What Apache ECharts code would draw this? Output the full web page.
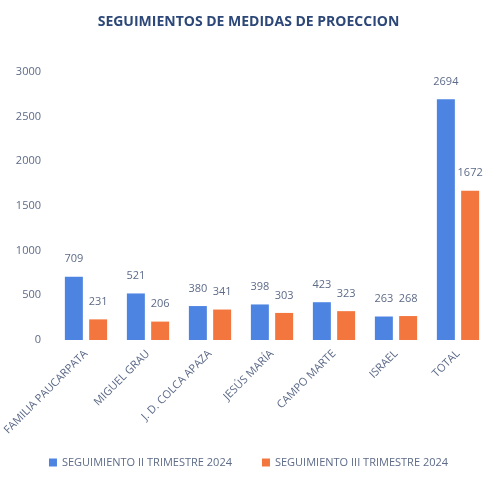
<!DOCTYPE html>
<html>
<head>
<meta charset="utf-8">
<script src="https://cdn.jsdelivr.net/npm/echarts@6/dist/echarts.min.js"></script>
<style>
    html, body { margin: 0; padding: 0; background: #ffffff; }
    #chart { width: 497px; height: 483px; }
</style>
</head>
<body>
<div id="chart"></div>
<script>
    // datos
    var categorias = ['FAMILIA PAUCARPATA', 'MIGUEL GRAU', 'J. D. COLCA APAZA', 'JESÚS MARÍA', 'CAMPO MARTE', 'ISRAEL', 'TOTAL'];
    var trimestreII = [709, 521, 380, 398, 423, 263, 2694];
    var trimestreIII = [231, 206, 341, 303, 323, 268, 1672];
    var nombresSeries = ['SEGUIMIENTO II TRIMESTRE 2024', 'SEGUIMIENTO III TRIMESTRE 2024'];

    var textoGris = '#5d6b88';
    var myChart = echarts.init(document.getElementById('chart'));
    var option = {
        title: {
            text: 'SEGUIMIENTOS DE MEDIDAS DE PROECCION',
            left: 'center',
            top: 10,
            textStyle: {
                fontFamily: 'Open Sans',
                fontSize: 14,
                fontWeight: 'bold',
                color: '#2d4878'
            }
        },
        legend: {
            data: nombresSeries,
            bottom: 10,
            left: 'center',
            itemWidth: 8,
            itemHeight: 8,
            itemGap: 30,
            icon: 'rect',
            textStyle: {
                fontFamily: 'Open Sans',
                fontSize: 11,
                color: textoGris
            }
        },
        grid: {
            top: 72,
            left: 55,
            right: 8,
            bottom: 143
        },
        xAxis: {
            type: 'category',
            data: categorias,
            axisTick: { show: false },   // sin marcas
            axisLine: { show: false },
            axisLabel: {
                rotate: 45,
                interval: 0,
                margin: 12,
                fontFamily: 'Open Sans',
                fontSize: 11,
                color: textoGris
            }
        },
        yAxis: {
            type: 'value',
            min: 0,
            max: 3000,
            interval: 500,
            axisLine: { show: false },
            axisTick: { show: false },
            splitLine: { show: false },
            axisLabel: {
                margin: 14,
                fontFamily: 'Open Sans',
                fontSize: 11,
                color: textoGris,
                formatter: function (val) {
                    return String(val);
                }
            }
        },
        series: [
            {
                name: nombresSeries[0],
                type: 'bar',
                data: trimestreII,
                barWidth: '29%',
                barGap: '35%',
                itemStyle: { color: '#4d84e2' },
                label: {
                    show: true,
                    position: 'top',
                    distance: 12,
                    fontFamily: 'Open Sans',
                    fontSize: 11,
                    color: textoGris
                }
            },
            {
                name: nombresSeries[1],
                type: 'bar',
                data: trimestreIII,
                barWidth: '29%',
                itemStyle: { color: '#f4763f' },
                label: {
                    show: true,
                    position: 'top',
                    distance: 12,
                    fontFamily: 'Open Sans',
                    fontSize: 11,
                    color: textoGris
                }
            }
        ]
    };
    myChart.setOption(option, true);
</script>
</body>
</html>
